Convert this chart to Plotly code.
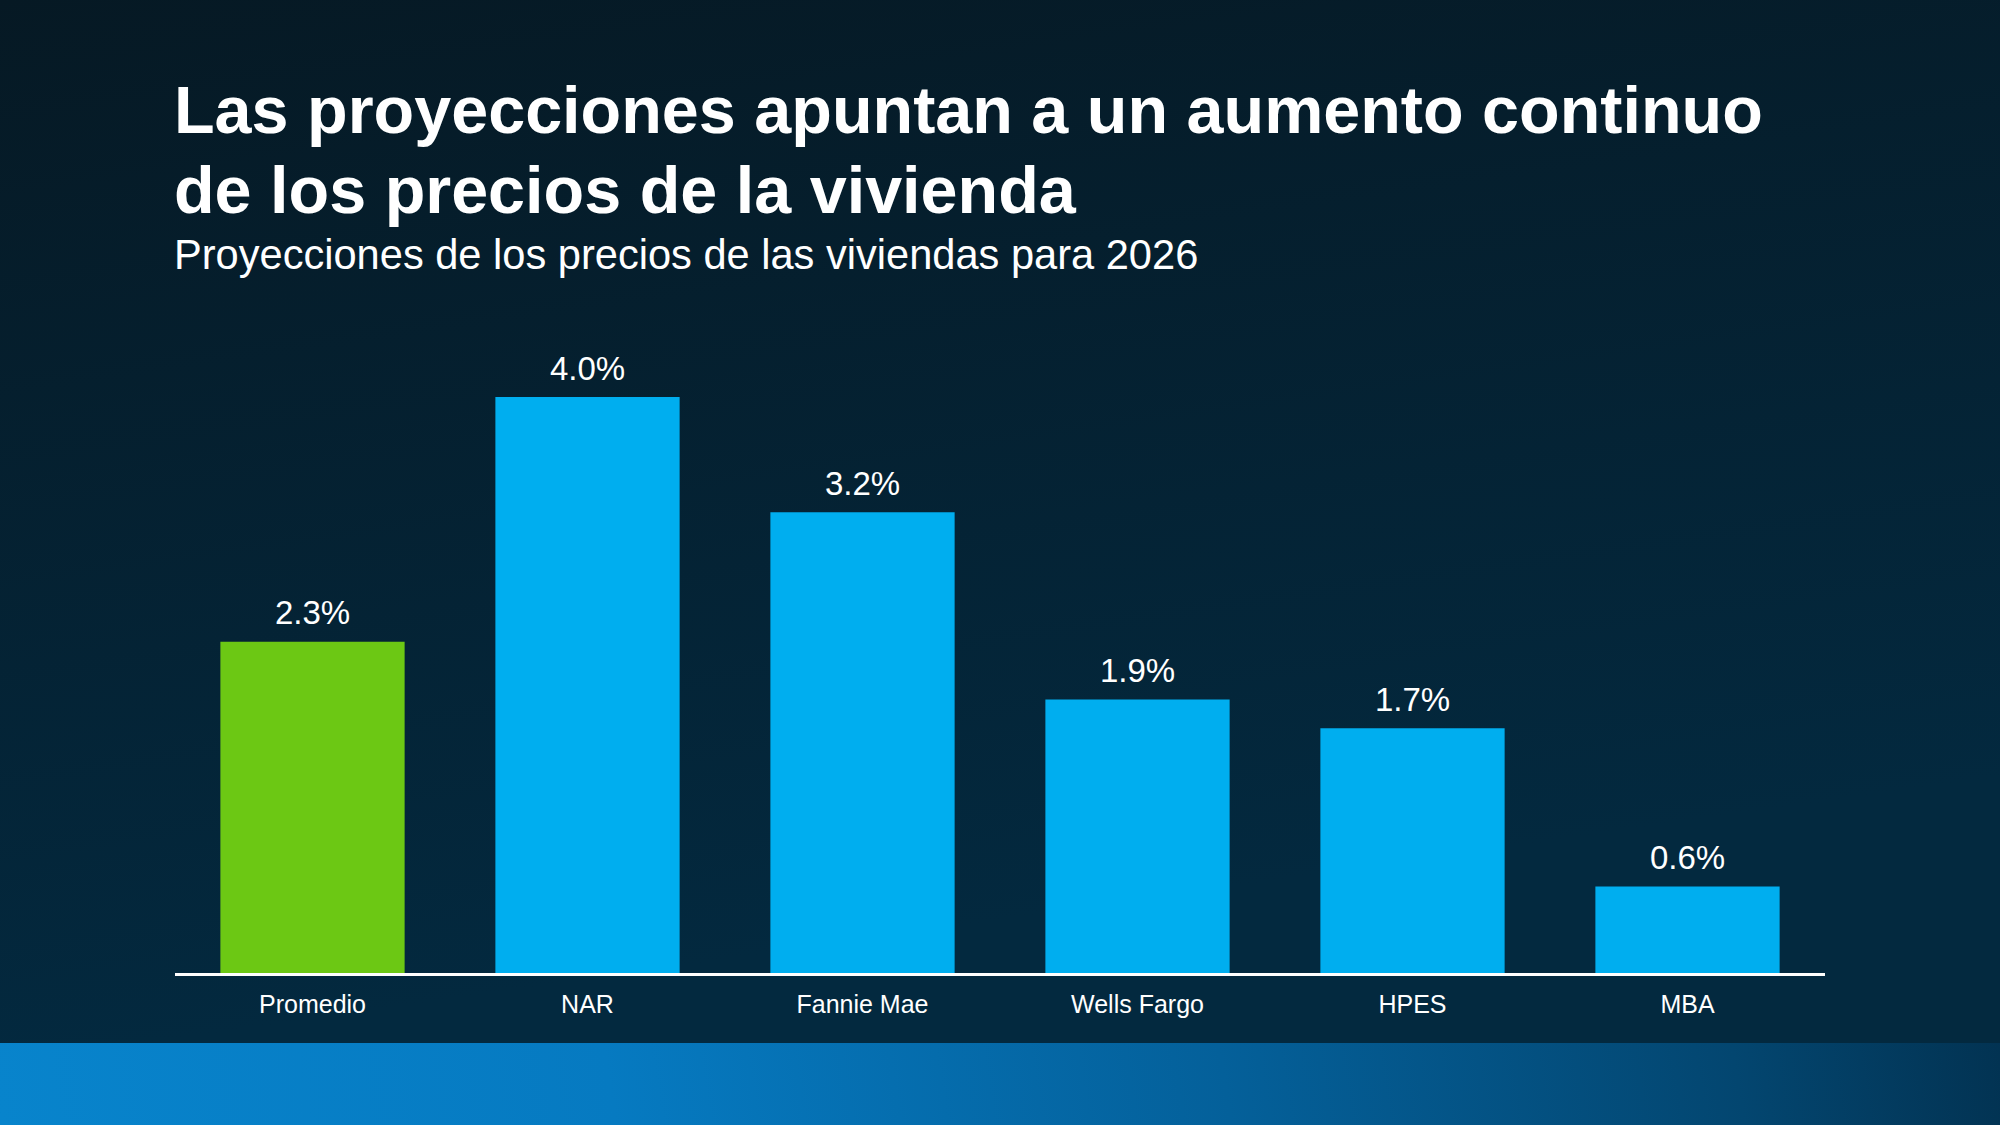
import base64
import plotly.graph_objects as go

categories = ["Promedio", "NAR", "Fannie Mae", "Wells Fargo", "HPES", "MBA"]
values = [2.3, 4.0, 3.2, 1.9, 1.7, 0.6]
labels = ["2.3%", "4.0%", "3.2%", "1.9%", "1.7%", "0.6%"]
bar_colors = ["#6CC814", "#00AEEF", "#00AEEF", "#00AEEF", "#00AEEF", "#00AEEF"]

title_line1 = "Las proyecciones apuntan a un aumento continuo"
title_line2 = "de los precios de la vivienda"
subtitle = "Proyecciones de los precios de las viviendas para 2026"

W, H = 2000, 1125
ML, MR, MT, MB = 175, 175, 325, 152
PW, PH = W - ML - MR, H - MT - MB

def py(p):
    return (H - MB - p) / PH

svg = f"""<svg xmlns='http://www.w3.org/2000/svg' width='{W}' height='{H}' viewBox='0 0 {W} {H}' preserveAspectRatio='none'>
<defs>
<linearGradient id='bg' gradientUnits='userSpaceOnUse' x1='0' y1='0' x2='150' y2='1043'>
<stop offset='0' stop-color='#061924'/>
<stop offset='1' stop-color='#03293F'/>
</linearGradient>
<linearGradient id='band' gradientUnits='userSpaceOnUse' x1='0' y1='1125' x2='2000' y2='800'>
<stop offset='0' stop-color='#0884CC'/>
<stop offset='0.3' stop-color='#067AC1'/>
<stop offset='0.6' stop-color='#04609A'/>
<stop offset='0.85' stop-color='#034670'/>
<stop offset='1' stop-color='#02304E'/>
</linearGradient>
</defs>
<rect x='0' y='0' width='{W}' height='{H}' fill='url(#bg)'/>
<rect x='0' y='1043' width='{W}' height='{H-1043}' fill='url(#band)'/>
</svg>"""
src = "data:image/svg+xml;base64," + base64.b64encode(svg.encode()).decode()

font_fam = "Arial, Liberation Sans, Helvetica, sans-serif"

fig = go.Figure(
    go.Bar(
        x=categories,
        y=values,
        marker=dict(color=bar_colors, line=dict(width=0)),
        width=0.67,
        cliponaxis=False,
    )
)

value_annotations = [
    dict(x=c, y=v, text=t, xref="x", yref="y", showarrow=False,
         xanchor="center", yanchor="middle", yshift=29,
         font=dict(size=33, color="white", family=font_fam))
    for c, v, t in zip(categories, values, labels)
]

fig.update_layout(
    width=W,
    height=H,
    margin=dict(l=ML, r=MR, t=MT, b=MB),
    paper_bgcolor="#051E2E",
    plot_bgcolor="rgba(0,0,0,0)",
    showlegend=False,
    font=dict(family=font_fam, color="white"),
    xaxis=dict(
        range=[-0.5, 5.5],
        showline=True,
        linecolor="white",
        linewidth=3,
        showgrid=False,
        zeroline=False,
        ticks="",
        tickfont=dict(size=25, color="white", family=font_fam),
        ticklabelstandoff=7,
    ),
    yaxis=dict(
        range=[0, 4.5],
        visible=False,
        showgrid=False,
        zeroline=False,
    ),
    images=[
        dict(
            source=src,
            xref="paper",
            yref="paper",
            x=-ML / PW,
            y=(H - MB) / PH,
            sizex=W / PW,
            sizey=H / PH,
            sizing="stretch",
            xanchor="left",
            yanchor="top",
            layer="below",
        )
    ],
    annotations=[
        dict(text=title_line1, x=-3 / PW, y=py(110), xref="paper", yref="paper",
             xanchor="left", yanchor="middle", showarrow=False,
             font=dict(size=66.5, color="white", family=font_fam, weight="bold")),
        dict(text=title_line2, x=-3 / PW, y=py(190), xref="paper", yref="paper",
             xanchor="left", yanchor="middle", showarrow=False,
             font=dict(size=66.5, color="white", family=font_fam, weight="bold")),
        dict(text=subtitle, x=-3 / PW, y=py(254), xref="paper", yref="paper",
             xanchor="left", yanchor="middle", showarrow=False,
             font=dict(size=41.6, color="white", family=font_fam)),
    ] + value_annotations,
)

fig.write_html("out.html")
